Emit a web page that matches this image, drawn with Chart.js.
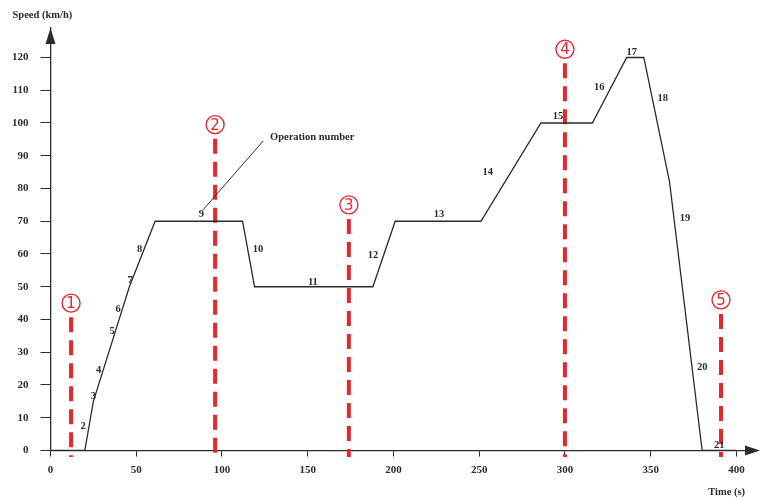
<!DOCTYPE html>
<html>
<head>
<meta charset="utf-8">
<script src="https://cdn.jsdelivr.net/npm/chart.js@4.4.1/dist/chart.umd.min.js"></script>
<style>
  html, body { margin: 0; padding: 0; background: #fff; }
  #wrap { width: 761px; height: 498px; }
</style>
</head>
<body>
<div id="wrap"><canvas id="viz"></canvas></div>
<script>
// speed profile (time in s, speed in km/h)
const timeSec = [0, 20, 25, 37, 46, 61, 112, 119, 188, 201, 251, 286, 316, 336, 346, 361, 380, 400];
const speedKmh = [0, 0, 15, 35, 50, 70, 70, 50, 50, 70, 70, 100, 100, 120, 120, 82, 0, 0];

// operation numbers written next to the curve
const opNames = ['2', '3', '4', '5', '6', '7', '8', '9', '10', '11', '12', '13', '14', '15', '16', '17', '18', '19', '20', '21'];
const opTime = [19, 25, 28, 36, 39.5, 46.5, 52, 88, 121, 153, 188, 226.5, 255, 296, 320, 339, 357, 370, 380, 390];
const opSpeed = [7.5, 16.5, 24.5, 36.5, 43, 52, 61.5, 72, 61.5, 51.5, 59.5, 72, 85, 102, 111, 121.5, 107.5, 71, 25.5, 1.5];

// red circled markers
const markerNames = ['1', '2', '3', '4', '5'];
const markerTime = [12, 96, 174, 300, 391];
const markerSpeed = [45, 99.5, 75, 122.5, 46];

// "Operation number" callout
const calloutText = 'Operation number';
const calloutLine = [{x: 89, y: 73.5}, {x: 124, y: 94.5}];
const calloutPos = {x: 128, y: 95.5};

const yTitle = 'Speed (km/h)';
const xTitle = 'Time (s)';
const yTickStep = 10;
const xTickStep = 50;

const RED = '#e8262c';
const INK = '#2b2b2b';
const SERIF = '"Liberation Serif", "DejaVu Serif", serif';

const datasets = [{
  data: timeSec.map((t, i) => ({x: t, y: speedKmh[i]})),
  borderColor: INK,
  borderWidth: 1.3,
  pointRadius: 0,
  tension: 0
}, {
  data: calloutLine,
  borderColor: INK,
  borderWidth: 1,
  pointRadius: 0
}];

markerTime.forEach((t, i) => {
  datasets.push({
    data: [{x: t, y: markerSpeed[i] - 4.3}, {x: t, y: -2}],
    borderColor: RED,
    borderWidth: 4,
    borderDash: [15, 8],
    pointRadius: 0,
    clip: false
  });
});

datasets.push({
  data: markerTime.map((t, i) => ({x: t, y: markerSpeed[i]})),
  showLine: false,
  pointRadius: 9,
  pointBorderColor: RED,
  pointBorderWidth: 1.4,
  pointBackgroundColor: 'rgba(255,255,255,0.9)',
  clip: false
});

const labelPlugin = {
  id: 'labels',
  afterDatasetsDraw(chart) {
    const ctx = chart.ctx;
    const xs = chart.scales.x, ys = chart.scales.y;
    const top = chart.chartArea.top, right = chart.chartArea.right, left = chart.chartArea.left;
    ctx.save();
    ctx.textAlign = 'center';
    ctx.textBaseline = 'middle';
    ctx.fillStyle = INK;
    ctx.font = 'bold 10.5px ' + SERIF;
    opNames.forEach((n, i) => {
      ctx.fillText(n, xs.getPixelForValue(opTime[i]), ys.getPixelForValue(opSpeed[i]));
    });
    ctx.textAlign = 'left';
    ctx.fillText(calloutText, xs.getPixelForValue(calloutPos.x), ys.getPixelForValue(calloutPos.y));
    // y axis caption sits above the arrow
    ctx.fillText(yTitle, left - 38, top - 13);

    ctx.textAlign = 'center';
    ctx.fillStyle = RED;
    ctx.font = '15px "DejaVu Sans", sans-serif';
    markerNames.forEach((n, i) => {
      ctx.fillText(n, xs.getPixelForValue(markerTime[i]), ys.getPixelForValue(markerSpeed[i]) + 1);
    });

    // axis arrow heads
    const x0 = xs.getPixelForValue(0), y0 = ys.getPixelForValue(0);
    ctx.fillStyle = INK;
    ctx.beginPath();
    ctx.moveTo(x0, top);
    ctx.lineTo(x0 - 5, top + 16);
    ctx.lineTo(x0 + 5, top + 16);
    ctx.closePath();
    ctx.fill();
    ctx.beginPath();
    ctx.moveTo(right + 15, y0);
    ctx.lineTo(right, y0 - 5);
    ctx.lineTo(right, y0 + 5);
    ctx.closePath();
    ctx.fill();
    ctx.restore();
  }
};

const ctx = document.getElementById('viz');
new Chart(ctx, {
  type: 'line',
  data: {datasets: datasets},
  options: {
    responsive: true,
    maintainAspectRatio: false,
    animation: false,
    events: [],
    layout: {padding: {left: 0, right: 16, top: 28, bottom: 0}},
    plugins: {
      legend: {display: false},
      tooltip: {enabled: false},
      title: {display: false}
    },
    scales: {
      x: {
        type: 'linear',
        min: 0,
        max: 405,
        ticks: {
          stepSize: xTickStep,
          includeBounds: false,
          color: INK,
          padding: 8,
          maxRotation: 0,
          font: {family: SERIF, size: 11, weight: 'bold', lineHeight: 1}
        },
        grid: {drawOnChartArea: false, tickLength: 6, color: INK, lineWidth: 1},
        border: {color: INK, width: 1.3},
        title: {
          display: true,
          text: xTitle,
          align: 'end',
          color: INK,
          font: {family: SERIF, size: 10.5, weight: 'bold', lineHeight: 1},
          padding: {top: 4, bottom: 0}
        }
      },
      y: {
        min: 0,
        max: 129,
        ticks: {
          stepSize: yTickStep,
          includeBounds: false,
          color: INK,
          padding: 12,
          font: {family: SERIF, size: 11, weight: 'bold'}
        },
        grid: {drawOnChartArea: false, tickLength: 10, color: INK, lineWidth: 1},
        border: {color: INK, width: 1.3}
      }
    }
  },
  plugins: [labelPlugin]
});
</script>
</body>
</html>
